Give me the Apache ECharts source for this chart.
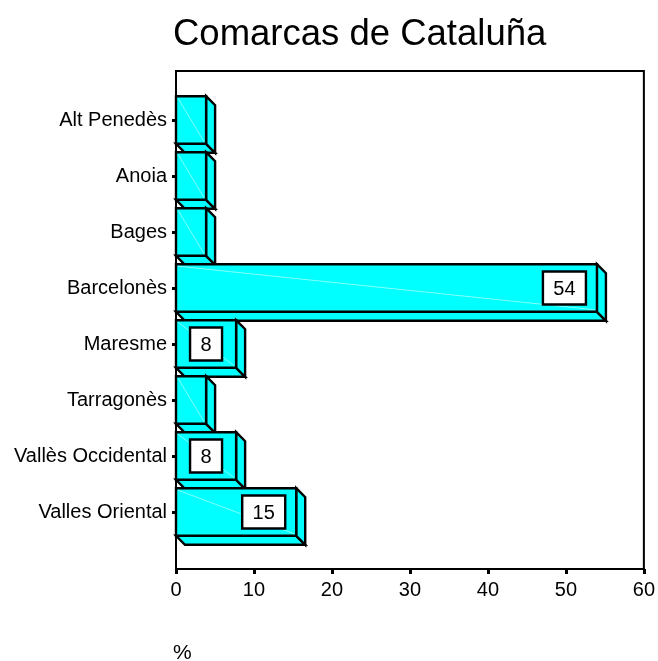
<!DOCTYPE html>
<html>
<head>
<meta charset="utf-8">
<script src="https://cdn.jsdelivr.net/npm/echarts@6/dist/echarts.min.js"></script>
<style>
html,body{margin:0;padding:0;background:#fff;}
#chart{width:658px;height:661px;}
</style>
</head>
<body>
<div id="chart"></div>
<script>
const categories = ['Alt Penedès','Anoia','Bages','Barcelonès','Maresme','Tarragonès','Vallès Occidental','Valles Oriental'];
const percents = [3.85, 3.85, 3.85, 53.85, 7.69, 3.85, 7.69, 15.38];
const barLabels = ['', '', '', '54', '8', '', '8', '15'];
const xTicks = [0, 10, 20, 30, 40, 50, 60];

const FONT = '"Liberation Sans", Arial, sans-serif';
const chart = echarts.init(document.getElementById('chart'));

function renderItem(params, api) {
  const v = api.value(0), c = api.value(1);
  const p0 = api.coord([0, c]);
  const p1 = api.coord([v, c]);
  const band = api.size([0, 1])[1];
  const h = band * 0.85;
  const x0 = p0[0], x1 = p1[0];
  const top = p0[1] - h / 2, bot = p0[1] + h / 2;
  const dx = 9, dy = 9;
  const st = {fill: '#00ffff', stroke: '#000', lineWidth: 2.4, lineJoin: 'miter'};
  const children = [
    {type: 'polygon', shape: {points: [[x0, bot], [x1, bot], [x1 + dx, bot + dy], [x0 + dx, bot + dy]]}, style: st},
    {type: 'polygon', shape: {points: [[x1, top], [x1 + dx, top + dy], [x1 + dx, bot + dy], [x1, bot]]}, style: st},
    {type: 'rect', shape: {x: x0, y: top, width: x1 - x0, height: h}, style: st},
    {type: 'line', shape: {x1: x0 + 2, y1: top + 2, x2: x1 - 2, y2: bot - 2}, style: {stroke: 'rgba(190,255,255,0.7)', lineWidth: 1}}
  ];
  const lab = barLabels[params.dataIndex];
  if (lab) {
    const bw = lab.length * 11 + 21;
    const bh = 33;
    const fw = x1 - x0;
    const bx = fw < 80 ? (x0 + x1) / 2 - bw / 2 : x1 - 11 - bw;
    const by = p0[1] - bh / 2;
    children.push({type: 'rect', shape: {x: bx, y: by, width: bw, height: bh}, style: {fill: '#fff', stroke: '#000', lineWidth: 2.4}});
    children.push({type: 'text', style: {text: lab, x: bx + bw / 2, y: by + bh / 2 + 1, align: 'center', verticalAlign: 'middle', fill: '#000', font: '20px ' + FONT}});
  }
  return {type: 'group', children: children};
}

chart.setOption({
  animation: false,
  backgroundColor: '#fff',
  textStyle: {fontFamily: FONT},
  grid: [
    {left: 176, top: 71, width: 469, height: 498, show: true, borderColor: '#000', borderWidth: 2, backgroundColor: 'transparent'},
    {left: 176, top: 92, width: 469, height: 448}
  ],
  xAxis: [
    {type: 'value', gridIndex: 0, min: xTicks[0], max: xTicks[xTicks.length - 1], interval: 10,
     axisLine: {show: true, lineStyle: {color: '#000', width: 2}},
     axisTick: {show: true, length: 5, lineStyle: {color: '#000', width: 3}},
     axisLabel: {color: '#000', fontSize: 20, margin: 11, fontFamily: FONT},
     splitLine: {show: false}},
    {type: 'value', gridIndex: 1, min: xTicks[0], max: xTicks[xTicks.length - 1], show: false}
  ],
  yAxis: [
    {type: 'value', gridIndex: 0, show: false},
    {type: 'category', gridIndex: 1, data: categories, inverse: true,
     axisLine: {show: false},
     axisTick: {show: true, alignWithLabel: true, length: 4, lineStyle: {color: '#000', width: 3}},
     axisLabel: {color: '#000', fontSize: 20, margin: 9, fontFamily: FONT},
     splitLine: {show: false}}
  ],
  series: [{
    type: 'custom',
    xAxisIndex: 1, yAxisIndex: 1,
    clip: false,
    renderItem: renderItem,
    encode: {x: 0, y: 1},
    data: categories.map((c, i) => [percents[i], i])
  }],
  graphic: [
    {type: 'text', left: 173, top: 16, style: {text: 'Comarcas de Cataluña', font: '36.5px ' + FONT, fill: '#000'}},
    {type: 'text', left: 173, top: 643, style: {text: '%', font: '21px ' + FONT, fill: '#000'}}
  ]
});
</script>
</body>
</html>
